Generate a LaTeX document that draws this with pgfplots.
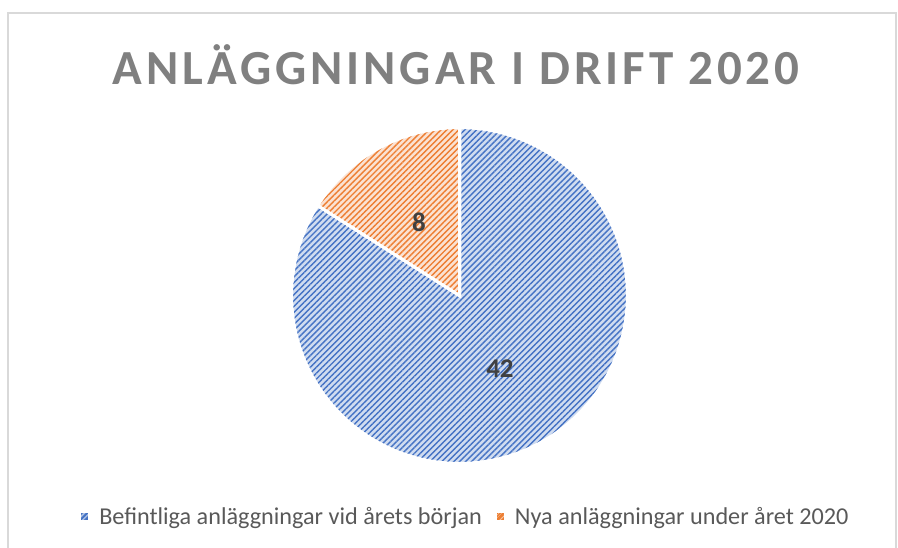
\documentclass[border=0pt]{standalone}
\usepackage{fontspec}
\setmainfont{Carlito}
\newfontfamily\titlefont[LetterSpace=8]{Carlito}
\usepackage{pgfplots}
\pgfplotsset{compat=1.18}
\usepackage{pgfplotstable}
\usetikzlibrary{patterns.meta}

\definecolor{cblue}{HTML}{4472C4}
\definecolor{corange}{HTML}{ED7D31}
\definecolor{ctitle}{HTML}{808080}
\definecolor{ctext}{HTML}{595959}
\definecolor{clabel}{HTML}{404040}
\definecolor{cframe}{HTML}{D9D9D9}

\pgfplotstableread{
label value
Befintliga 42
Nya 8
}\piedata

\pgfplotstablegetelem{0}{value}\of\piedata \let\va\pgfplotsretval
\pgfplotstablegetelem{1}{value}\of\piedata \let\vb\pgfplotsretval
\pgfmathsetmacro\tot{\va+\vb}
\pgfmathsetmacro\aEnd{90+360*\vb/\tot}
\pgfmathsetmacro\midB{(90+\aEnd)/2}
\pgfmathsetmacro\midA{(\aEnd+450)/2}
\pgfmathsetmacro\lbx{0.5*cos(\midB)}
\pgfmathsetmacro\lby{0.5*sin(\midB)}
\pgfmathsetmacro\lax{0.5*cos(\midA)}
\pgfmathsetmacro\lay{0.5*sin(\midA)}

\begin{document}
\begin{tikzpicture}
\useasboundingbox (0,0) rectangle (449pt,273.5pt);
\draw[cframe, line width=0.6pt] (4pt,-10pt) rectangle (448pt,267pt);
\begin{axis}[
  at={(229.75pt,125.75pt)}, anchor=center,
  x=84pt, y=84pt, xmin=-1, xmax=1, ymin=-1, ymax=1,
  hide axis, clip=false,
  legend columns=2,
  legend style={at={(0.516,-0.159)}, anchor=center, draw=none, fill=none,
    font=\fontsize{12.1}{14}\selectfont, text=ctext,
    nodes={inner xsep=1.5pt},
    /tikz/every odd column/.append style={column sep=2.5pt},
    /tikz/every even column/.append style={column sep=4.5pt}},
]
\addplot[fill=cblue!25, draw=white, line width=1.5pt,
  postaction={pattern={Lines[angle=45,distance=2.1pt,line width=0.7pt]}, pattern color=cblue},
  domain=\aEnd:450, samples=120, variable=\t,
  legend image code/.code={
    \fill[cblue!45] (0pt,-2.5pt) rectangle (5pt,2.5pt);
    \fill[pattern={Lines[angle=45,distance=1.7pt,line width=0.6pt]}, pattern color=cblue] (0pt,-2.5pt) rectangle (5pt,2.5pt);}]
  ({cos(\t)},{sin(\t)}) -- (axis cs:0,0) -- cycle;
\addlegendentry{Befintliga anläggningar vid årets början}
\addplot[fill=corange!22, draw=white, line width=1.5pt,
  postaction={pattern={Lines[angle=45,distance=2.1pt,line width=0.7pt]}, pattern color=corange},
  domain=90:\aEnd, samples=40, variable=\t,
  legend image code/.code={
    \fill[corange!45] (0pt,-2.5pt) rectangle (5pt,2.5pt);
    \fill[pattern={Lines[angle=45,distance=1.7pt,line width=0.6pt]}, pattern color=corange] (0pt,-2.5pt) rectangle (5pt,2.5pt);}]
  ({cos(\t)},{sin(\t)}) -- (axis cs:0,0) -- cycle;
\addlegendentry{Nya anläggningar under året 2020}
\addplot[only marks, mark=none, forget plot, point meta=explicit symbolic,
  nodes near coords, nodes near coords align=center,
  every node near coord/.append style={font=\bfseries\fontsize{13.5}{15}\selectfont, text=clabel}]
  coordinates {(\lax,\lay)[\va] (\lbx,\lby)[\vb]};
\node[anchor=base, font=\titlefont\bfseries\fontsize{24.5}{28}\selectfont, text=ctitle]
  at (axis description cs:0.49,1.129) {ANLÄGGNINGAR I DRIFT 2020};
\end{axis}
\end{tikzpicture}
\end{document}
